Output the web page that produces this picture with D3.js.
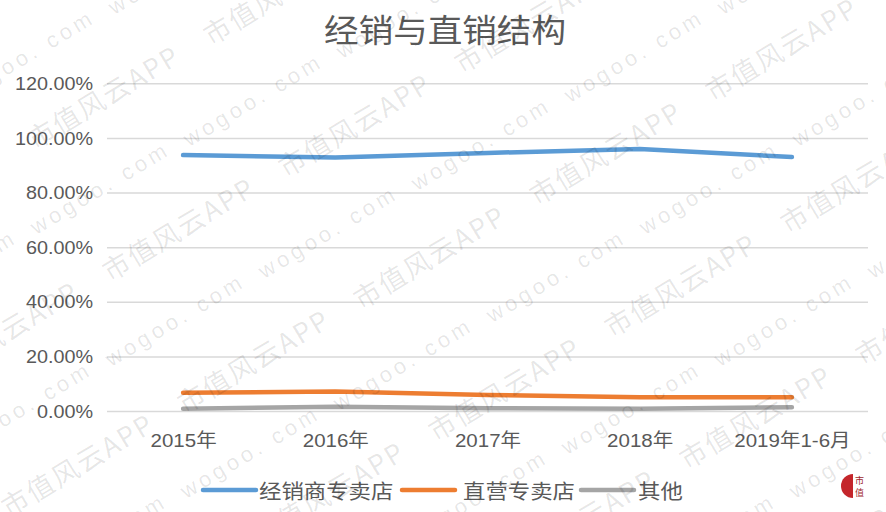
<!DOCTYPE html>
<html><head><meta charset="utf-8">
<script src="https://cdn.jsdelivr.net/npm/d3@7"></script>
<style>
html,body{margin:0;padding:0;background:#fff;}
svg{display:block;}
</style></head>
<body>
<svg id="chart" width="886" height="512"></svg>
<script>
// ---- data ----
const title = "经销与直销结构";
const categories = ["2015年", "2016年", "2017年", "2018年", "2019年1-6月"];
const seriesNames = ["经销商专卖店", "直营专卖店", "其他"];
const dealerStores = [93.7, 92.8, 94.5, 95.9, 93.0];
const directStores = [6.7, 7.1, 5.9, 5.0, 5.0];
const otherStores = [0.8, 1.6, 1.0, 0.8, 1.4];
const yTicks = [0, 20, 40, 60, 80, 100, 120];
const seriesColors = ["#5B9BD5", "#ED7D31", "#A5A5A5"];

const series = [dealerStores, directStores, otherStores].map((vals, i) => ({
  name: seriesNames[i], color: seriesColors[i], values: vals
}));

const svg = d3.select("#chart");
const W = 886, H = 512;
svg.append("rect").attr("width", W).attr("height", H).attr("fill", "#fff");

const x = d3.scalePoint().domain(categories).range([107, 868]).padding(0.5);
const y = d3.scaleLinear().domain([0, 120]).range([411, 83.3]);

const textColor = "#595959";
const latin = "'Liberation Sans', Arial, 'Noto Sans CJK SC', sans-serif";
const cjk = "'Noto Sans CJK SC', 'Liberation Sans', sans-serif";

// gridlines + y labels via axis
const yAxis = d3.axisLeft(y).tickValues(yTicks).tickSize(-(868 - 107)).tickPadding(0)
  .tickFormat(d => d3.format(".2f")(d) + "%");
const gy = svg.append("g").attr("transform", "translate(107,0)").call(yAxis);
gy.select(".domain").remove();
gy.selectAll(".tick line").attr("stroke", "#d9d9d9").attr("stroke-width", 1.5);
gy.selectAll(".tick text").each(function() {
  const t = d3.select(this);
  t.attr("x", null).attr("dy", null)
   .attr("text-anchor", "end")
   .attr("dominant-baseline", "central")
   .attr("transform", "translate(-14,0) scale(1.1,1)")
   .attr("fill", textColor)
   .style("font-family", latin)
   .style("font-size", "18px");
});

// x axis labels
const xAxis = d3.axisBottom(x).tickSize(0).tickPadding(0);
const gx = svg.append("g").attr("transform", "translate(0,411)").call(xAxis);
gx.select(".domain").remove();
gx.selectAll(".tick text").each(function() {
  d3.select(this).attr("y", null).attr("dy", null)
    .attr("text-anchor", "middle")
    .attr("dominant-baseline", "central")
    .attr("transform", "translate(0,29) scale(1.08,1)")
    .attr("fill", textColor)
    .style("font-family", latin)
    .style("font-size", "19px");
});

// lines
const line = d3.line().x((d, i) => x(categories[i])).y(d => y(d));
svg.append("g").selectAll("path").data(series.slice().reverse()).join("path")
  .attr("d", d => line(d.values))
  .attr("fill", "none")
  .attr("stroke", d => d.color)
  .attr("stroke-width", 4.5)
  .attr("stroke-linecap", "round")
  .attr("stroke-linejoin", "round");

// title
svg.append("text")
  .attr("transform", "translate(445,28) scale(1.08,1)")
  .attr("text-anchor", "middle")
  .attr("dominant-baseline", "central")
  .attr("fill", textColor)
  .style("font-family", cjk)
  .style("font-size", "32px")
  .text(title);

// legend
const legendItems = [
  {x0: 203, tx: 259},
  {x0: 402, tx: 463},
  {x0: 581, tx: 638}
];
const lg = svg.append("g");
series.forEach((s, i) => {
  const it = legendItems[i];
  lg.append("line").attr("x1", it.x0).attr("x2", it.x0 + 53)
    .attr("y1", 490).attr("y2", 490)
    .attr("stroke", s.color).attr("stroke-width", 4.5).attr("stroke-linecap", "round");
  lg.append("text")
    .attr("transform", `translate(${it.tx},490) scale(1.12,1)`)
    .attr("dominant-baseline", "central")
    .attr("fill", textColor)
    .style("font-family", cjk)
    .style("font-size", "20px")
    .text(s.name);
});

// watermark
const wm = svg.append("g").attr("pointer-events", "none");
const b = [75, 132];
function tile(origin, a, label, font, size, spacing) {
  for (let i = -4; i <= 5; i++) {
    for (let j = -4; j <= 4; j++) {
      const px = origin[0] + i * a[0] + j * b[0];
      const py = origin[1] + i * a[1] + j * b[1];
      if (px < -120 || px > W + 120 || py < -80 || py > H + 80) continue;
      wm.append("text")
        .attr("transform", `translate(${px},${py}) rotate(-31)`)
        .attr("text-anchor", "middle")
        .attr("dominant-baseline", "central")
        .attr("fill", "#000").attr("fill-opacity", 0.1)
        .style("font-family", font)
        .style("font-size", size + "px")
        .style("letter-spacing", spacing + "px")
        .text(label);
    }
  }
}
tile([178, 228], [251, 28], "市值风云APP", cjk, 27, 2);
tile([328, 232], [228, 44], "wogoo. com", latin, 22, 4);

// seal
const seal = svg.append("g").attr("transform", "translate(853,486)");
seal.append("path").attr("d", d3.arc()({innerRadius: 0, outerRadius: 12, startAngle: Math.PI, endAngle: 2 * Math.PI}))
  .attr("fill", "#c4262b");
seal.append("text").attr("x", 2).attr("y", -6).attr("dominant-baseline", "central")
  .attr("fill", "#a0282d").style("font-family", cjk).style("font-size", "9px").text("市");
seal.append("text").attr("x", 2).attr("y", 6).attr("dominant-baseline", "central")
  .attr("fill", "#a0282d").style("font-family", cjk).style("font-size", "9px").text("值");
</script>
</body></html>
